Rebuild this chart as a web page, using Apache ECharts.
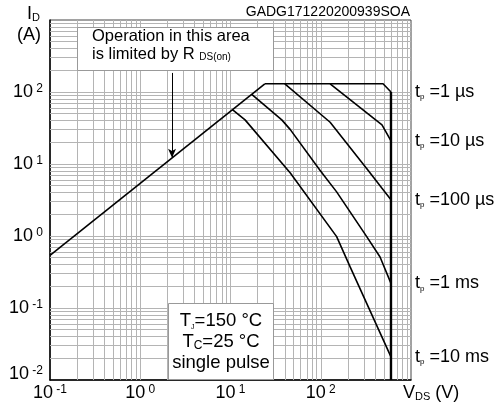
<!DOCTYPE html>
<html>
<head>
<meta charset="utf-8">
<script src="https://cdn.jsdelivr.net/npm/echarts@6/dist/echarts.min.js"></script>
<style>
  html, body { margin: 0; padding: 0; background: #fff; }
  #main { width: 503px; height: 407px; }
</style>
</head>
<body>
<div id="main"></div>
<script>
// safe operating area, points as [V_DS (V), I_D (A)]
var rdsLine  = [[0.1, 0.54], [24, 130]];
var tp1us    = [[24, 130], [490, 130], [600, 100]];
var tp10us   = [[127, 130], [477, 35], [600, 21]];
var tp100us  = [[40, 130], [127, 38], [334, 8.2], [477, 4.6], [600, 3.2]];
var tp1ms    = [[17.2, 93], [37, 41], [46, 30], [98, 8.2], [150, 4.1], [323, 0.98], [454, 0.51], [600, 0.22]];
var tp10ms   = [[10.5, 57], [14.5, 41], [46, 7.5], [150, 0.98], [211, 0.375], [600, 0.021]];
var vdsLimit = [[600, 100], [600, 0.01]];
var arrowPts = [[2.25, 184], [2.25, 12.2]];

var tpNames  = ['1 µs', '10 µs', '100 µs', '1 ms', '10 ms'];
var xTicks   = [0.1, 1, 10, 100];
var yTicks   = [0.01, 0.1, 1, 10, 100];

var FONT = 'Liberation Sans';

// log grid: 1..9 x 10^n
var xGrid = [], yGrid = [];
for (var n = -1; n <= 2; n++)
  for (var k = 1; k <= 9; k++) xGrid.push(k * Math.pow(10, n));
for (var n = -2; n <= 2; n++)
  for (var k = 1; k <= 9; k++) yGrid.push(k * Math.pow(10, n));

function hasTick(list, v) {
  for (var i = 0; i < list.length; i++) if (Math.abs(Math.log10(v / list[i])) < 1e-6) return true;
  return false;
}
function expOf(v) { return Math.round(Math.log10(v)); }

var tickRich = {
  b: { fontSize: 18, fontFamily: FONT, color: '#000' },
  e: { fontSize: 12, fontFamily: FONT, color: '#000', verticalAlign: 'top' },
  bl: { fontSize: 18, fontFamily: FONT, color: '#000', padding: [0, 0, 12, 0] },
  el: { fontSize: 12, fontFamily: FONT, color: '#000', verticalAlign: 'top' }
};

function curve(data, w) {
  return {
    type: 'line', data: data, symbol: 'none', z: 3, silent: true,
    lineStyle: { color: '#000', width: w || 1.6 }
  };
}

var tpData = [tp1us, tp10us, tp100us, tp1ms, tp10ms];
var series = [];

// grid lines
series.push({
  type: 'line', data: [[0.1, 0.01]], symbol: 'none', z: 1, silent: true,
  lineStyle: { width: 0 },
  markLine: {
    z: 1, silent: true, symbol: 'none', animation: false,
    label: { show: false },
    lineStyle: { color: '#b4b4b4', width: 1, type: 'solid' },
    emphasis: { disabled: true },
    data: xGrid.filter(function (v) { return v > 0.1001; }).map(function (v) { return { xAxis: v }; })
      .concat(yGrid.filter(function (v) { return v > 0.01001; }).map(function (v) { return { yAxis: v }; }))
  }
});

// R_DS(on) limit with arrow
var rds = curve(rdsLine);
rds.markLine = {
  z: 4, silent: true, animation: false, symbol: ['none', 'arrow'], symbolSize: [6, 9],
  label: { show: false },
  lineStyle: { color: '#000', width: 1, type: 'solid' },
  emphasis: { disabled: true },
  data: [[{ coord: arrowPts[0] }, { coord: arrowPts[1] }]]
};
series.push(rds);

tpData.forEach(function (d, i) {
  var s = curve(d);
  s.endLabel = {
    show: true, distance: 24,
    formatter: '{t|t}{p|p}{v| =' + tpNames[i] + '}',
    rich: {
      t: { fontSize: 18, fontFamily: FONT, color: '#000' },
      p: { fontSize: 8, fontFamily: FONT, color: '#000', verticalAlign: 'bottom' },
      v: { fontSize: 18, fontFamily: FONT, color: '#000' }
    }
  };
  series.push(s);
});
series.push(curve(vdsLimit, 2.4));

var option = {
  animation: false,
  backgroundColor: '#fff',
  textStyle: { fontFamily: FONT },
  grid: { left: 50, right: 92, top: 20, bottom: 27, show: true, borderColor: '#444', borderWidth: 1 },
  xAxis: {
    type: 'log', logBase: 10, min: 0.1, max: 1000,
    axisLine: { show: true, lineStyle: { color: '#000', width: 1.5 } },
    axisTick: { show: false },
    splitLine: { show: false },
    axisLabel: {
      margin: 4, showMinLabel: true, showMaxLabel: true, rich: tickRich,
      formatter: function (v) {
        if (!hasTick(xTicks, v)) return '';
        return '{b|10}{e| ' + expOf(v) + '}';
      }
    }
  },
  yAxis: {
    type: 'log', logBase: 10, min: 0.01, max: 1000,
    axisLine: { show: true, lineStyle: { color: '#000', width: 1.5 } },
    axisTick: { show: false },
    splitLine: { show: false },
    axisLabel: {
      margin: 7, showMinLabel: true, showMaxLabel: true, rich: tickRich,
      formatter: function (v) {
        if (!hasTick(yTicks, v)) return '';
        if (expOf(v) === -2) return '{bl|10}{el| -2}';
        return '{b|10}{e| ' + expOf(v) + '}';
      }
    }
  },
  series: series,
  graphic: [
    { type: 'text', z: 100, left: 27, top: 5,
      style: { text: '{a|I}{s|D}', rich: {
        a: { fontSize: 18, fontFamily: FONT, fill: '#000' },
        s: { fontSize: 11, fontFamily: FONT, fill: '#000', verticalAlign: 'bottom' } } } },
    { type: 'text', z: 100, left: 17, top: 26,
      style: { text: '(A)', fontSize: 18, fontFamily: FONT, fill: '#000' } },
    { type: 'text', z: 100, right: 93, top: 5,
      style: { text: 'GADG171220200939SOA', fontSize: 14, fontFamily: FONT, fill: '#000' } },
    { type: 'text', z: 100, left: 403, top: 384,
      style: { text: '{a|V}{s|DS}{a| (V)}', rich: {
        a: { fontSize: 18, fontFamily: FONT, fill: '#000' },
        s: { fontSize: 11, fontFamily: FONT, fill: '#000', verticalAlign: 'bottom' } } } },
    // R_DS(on) note
    { type: 'rect', z: 90, shape: { x: 77.5, y: 27.5, width: 196, height: 43 },
      style: { fill: '#fff', stroke: '#999', lineWidth: 1 } },
    { type: 'text', z: 100, left: 92, top: 28,
      style: { text: 'Operation in this area', fontSize: 16.5, fontFamily: FONT, fill: '#000' } },
    { type: 'text', z: 100, left: 92, top: 46,
      style: { text: '{a|is limited by R }{s|DS(on)}', rich: {
        a: { fontSize: 16.5, fontFamily: FONT, fill: '#000' },
        s: { fontSize: 10, fontFamily: FONT, fill: '#000', verticalAlign: 'bottom', padding: [0, 0, 1, 0] } } } },
    // test conditions
    { type: 'rect', z: 90, shape: { x: 168.5, y: 303.5, width: 105, height: 76 },
      style: { fill: '#fff', stroke: '#999', lineWidth: 1 } },
    { type: 'text', z: 100, x: 221, y: 321,
      style: { text: '{a|T}{j|J}{a|=150 °C}', align: 'center', verticalAlign: 'middle', rich: {
        a: { fontSize: 18.5, fontFamily: FONT, fill: '#000' },
        j: { fontSize: 7, fontFamily: FONT, fill: '#000', verticalAlign: 'bottom' } } } },
    { type: 'text', z: 100, x: 221, y: 342,
      style: { text: '{a|T}{c|C}{a|=25 °C}', align: 'center', verticalAlign: 'middle', rich: {
        a: { fontSize: 18.5, fontFamily: FONT, fill: '#000' },
        c: { fontSize: 12, fontFamily: FONT, fill: '#000', verticalAlign: 'bottom' } } } },
    { type: 'text', z: 100, x: 221, y: 363,
      style: { text: 'single pulse', align: 'center', verticalAlign: 'middle', fontSize: 18.5, fontFamily: FONT, fill: '#000' } }
  ]
};

var chart = echarts.init(document.getElementById('main'));
chart.setOption(option);
</script>
</body>
</html>
